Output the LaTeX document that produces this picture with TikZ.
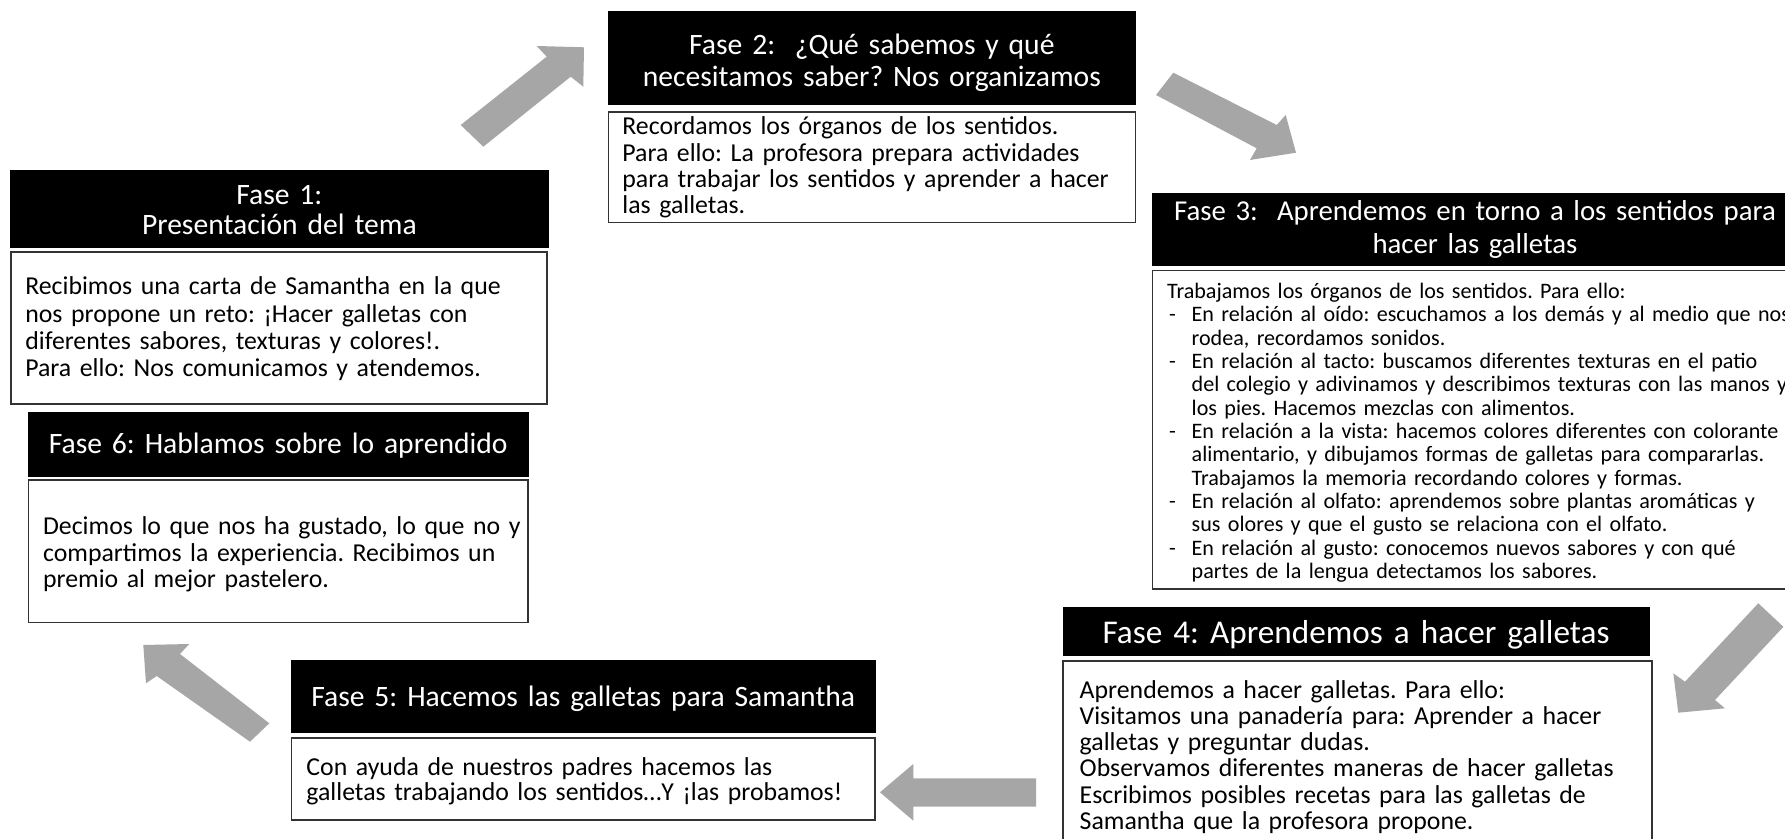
\documentclass[tikz,border=0pt]{standalone}
\usepackage{fontspec}
\setmainfont{Carlito}
\usetikzlibrary{fit}
\frenchspacing
\definecolor{arrowgray}{HTML}{A6A6A6}
\definecolor{boxline}{HTML}{333333}
\newcommand\fdash{\makebox[12.3pt][l]{\hspace{1pt}-}}
\newcommand\findent{\hspace*{12.3pt}}
\tikzset{
  hdr/.style={fill=black, draw=black, inner sep=0pt},
  bodybox/.style={draw=boxline, line width=0.8pt, fill=white, inner sep=0pt},
  hdrtext/.style={text=white, align=center, text width=320pt, inner sep=0pt, anchor=base},
  bodytext/.style={align=left, text width=330pt, inner sep=0pt, anchor=base west},
  blockarrow/.style={fill=arrowgray},
  hfont/.style={font=\fontsize{14.8pt}{#1}\selectfont},
  hfont/.default=15pt,
  bfont/.style={font=\fontsize{12.9pt}{#1}\selectfont},
}
\begin{document}
\begin{tikzpicture}[x=0.5pt,y=-0.5pt]
\useasboundingbox (0,0) rectangle (1785,839);
\clip (0,0) rectangle (1785,839);
\fill[white] (0,0) rectangle (1785,839);

% block arrows
\fill[blockarrow] (460.7,125) -- (546.7,56.7) -- (536.7,46) -- (584,47.3) -- (583.3,86.7) -- (570.7,76.7) -- (483.3,146.7) -- cycle;
\fill[blockarrow] (1173.3,72.7) -- (1276.7,125) -- (1285.7,115) -- (1296,152.7) -- (1250,160) -- (1256.7,148.3) -- (1156,95) -- cycle;
\fill[blockarrow] (1758.3,603.3) -- (1783.4,626.8) -- (1715,700) -- (1725,708.3) -- (1678.3,712.7) -- (1673.3,673.3) -- (1685,681.7) -- cycle;
\fill[blockarrow] (1036,778.3) -- (913.3,778.3) -- (913.3,764) -- (880,792.3) -- (913.3,820.7) -- (913.3,806.7) -- (1036,806.7) -- cycle;
\fill[blockarrow] (143.3,645) -- (189.3,644) -- (180,654) -- (269.3,723.3) -- (250,741.7) -- (156.7,676) -- (146,683.3) -- cycle;

% Fase 1
\node[hdr, fit={(10.7,170) (548,247)}] (h1) {};
\node[bodybox, fit={(10.7,252) (547,404)}] (b1) {};
\node[hdrtext, hfont] (t1h) at (279.35,205) {Fase 1:\\Presentación del tema};
\node[bodytext, bfont=13.6pt] (t1b) at (24.9,295) {Recibimos una carta de Samantha en la que\\
nos propone un reto: ¡Hacer galletas con\\
diferentes sabores, texturas y colores!.\\
Para ello: Nos comunicamos y atendemos.};

% Fase 2
\node[hdr, fit={(608.4,11.7) (1135.3,104.3)}] (h2) {};
\node[bodybox, fit={(608.4,112.3) (1135.3,222.7)}] (b2) {};
\node[hdrtext, hfont=16pt] (t2h) at (871.85,54.3) {Fase 2:\ \ ¿Qué sabemos y qué\\necesitamos saber? Nos organizamos};
\node[bodytext, bfont=13.05pt] (t2b) at (622,135) {Recordamos los órganos de los sentidos.\\
Para ello: La profesora prepara actividades\\
para trabajar los sentidos y aprender a hacer\\
las galletas.};

% Fase 3
\node[hdr, fit={(1152.3,193.3) (1800,265)}] (h3) {};
\node[bodybox, fit={(1152.3,270.7) (1800,589.3)}] (b3) {};
\node[hdrtext, font=\fontsize{14.4pt}{16.5pt}\selectfont] (t3h) at (1475,220.5) {Fase 3:\ \ Aprendemos en torno a los sentidos para\\hacer las galletas};
\node[bodytext, font=\fontsize{11.05pt}{11.67pt}\selectfont] (t3b) at (1166.7,298.4) {Trabajamos los órganos de los sentidos. Para ello:\\
\fdash En relación al oído: escuchamos a los demás y al medio que nos\\
\findent rodea, recordamos sonidos.\\
\fdash En relación al tacto: buscamos diferentes texturas en el patio\\
\findent del colegio y adivinamos y describimos texturas con las manos y\\
\findent los pies. Hacemos mezclas con alimentos.\\
\fdash En relación a la vista: hacemos colores diferentes con colorante\\
\findent alimentario, y dibujamos formas de galletas para compararlas.\\
\findent Trabajamos la memoria recordando colores y formas.\\
\fdash En relación al olfato: aprendemos sobre plantas aromáticas y\\
\findent sus olores y que el gusto se relaciona con el olfato.\\
\fdash En relación al gusto: conocemos nuevos sabores y con qué\\
\findent partes de la lengua detectamos los sabores.};

% Fase 4
\node[hdr, fit={(1063,607.3) (1649.3,655)}] (h4) {};
\node[bodybox, fit={(1063,661) (1652,860)}] (b4) {};
\node[hdrtext, font=\fontsize{16.6pt}{17pt}\selectfont] (t4h) at (1356,643.5) {Fase 4: Aprendemos a hacer galletas};
\node[bodytext, bfont=13.1pt] (t4b) at (1079.3,698.4) {Aprendemos a hacer galletas. Para ello:\\
Visitamos una panadería para: Aprender a hacer\\
galletas y preguntar dudas.\\
Observamos diferentes maneras de hacer galletas\\
Escribimos posibles recetas para las galletas de\\
Samantha que la profesora propone.};

% Fase 5
\node[hdr, fit={(291.5,660.7) (875,732.7)}] (h5) {};
\node[bodybox, fit={(291.5,738.3) (875,820)}] (b5) {};
\node[hdrtext, hfont] (t5h) at (583.25,707) {Fase 5: Hacemos las galletas para Samantha};
\node[bodytext, bfont=12.3pt] (t5b) at (306,775.4) {Con ayuda de nuestros padres hacemos las\\
galletas trabajando los sentidos…Y ¡las probamos!};

% Fase 6
\node[hdr, fit={(28.3,412.7) (528,476)}] (h6) {};
\node[bodybox, fit={(28.3,480) (528,622.7)}] (b6) {};
\node[hdrtext, hfont] (t6h) at (278.2,454) {Fase 6: Hablamos sobre lo aprendido};
\node[bodytext, bfont=13.1pt] (t6b) at (42.7,534.9) {Decimos lo que nos ha gustado, lo que no y\\
compartimos la experiencia. Recibimos un\\
premio al mejor pastelero.};
\end{tikzpicture}
\end{document}
